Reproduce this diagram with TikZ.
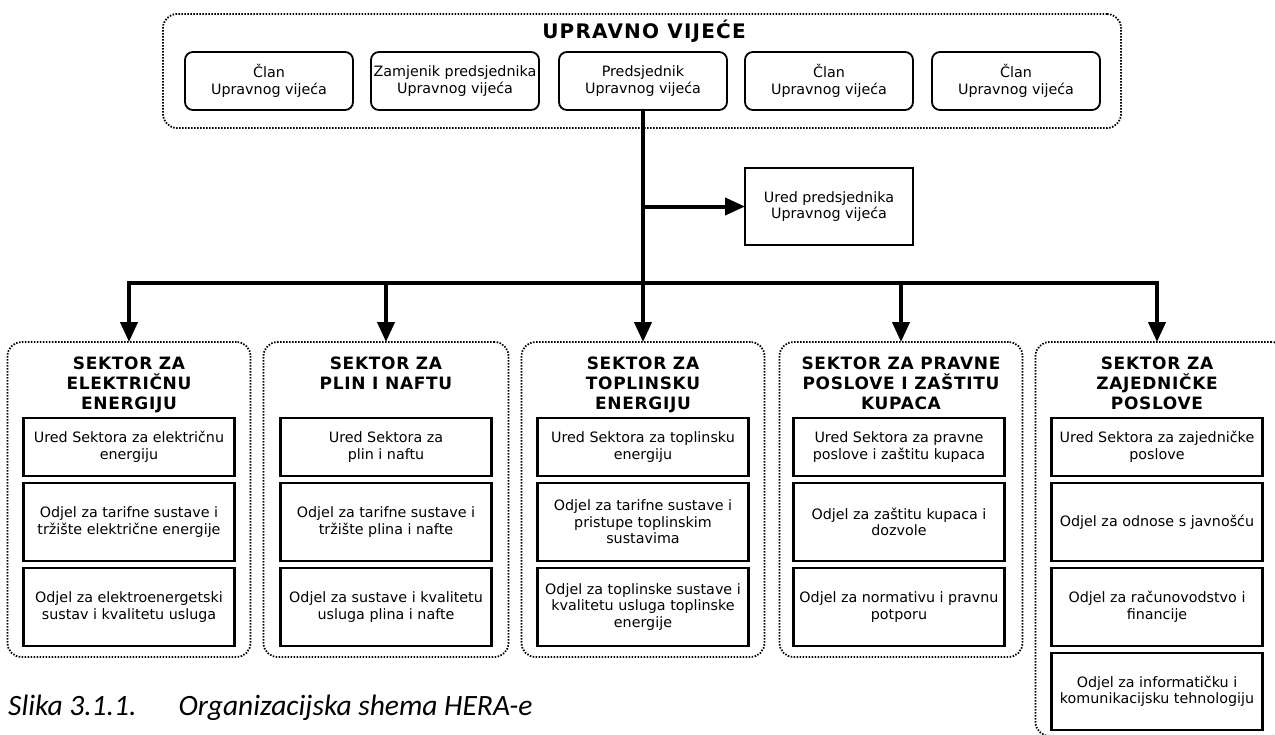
\documentclass[tikz,border=0pt]{standalone}
\usepackage{fontspec}
\setmainfont{DejaVu Sans}
\newfontfamily\tfont{DejaVu Sans}[LetterSpace=4]
\newfontfamily\ttfont{DejaVu Sans}[LetterSpace=6]
\newfontfamily\capfont{Carlito}
\usetikzlibrary{arrows.meta}
\begin{document}
\begin{tikzpicture}[x=1pt,y=-1pt,
  frame/.style={draw, line width=1.8pt, dash pattern=on 1.5pt off 1.5pt, rounded corners=14pt, inner sep=0pt, outer sep=0pt},
  topbox/.style={draw, line width=1.8pt, rounded corners=8pt, minimum width=168pt, minimum height=58pt, inner sep=0pt, outer sep=0pt, align=center, font=\fontsize{14.3}{16.5}\selectfont},
  unitbox/.style={draw, line width=2.2pt, minimum width=211pt, inner sep=0pt, outer sep=0pt, align=center, font=\fontsize{14.3}{16.5}\selectfont},
  sectitle/.style={anchor=north, inner sep=0pt, align=center, font=\tfont\bfseries\fontsize{17}{20}\selectfont},
  conn/.style={line width=4pt},
  arr/.style={conn, -{Triangle[length=20pt,width=17pt]}}
]
\useasboundingbox (0,0) rectangle (1275,734);

% Upravno vijece
\node[frame, minimum width=958pt, minimum height=114pt] (uv) at (642,71) {};
\node[inner sep=0pt, font=\ttfont\bfseries\fontsize{20}{22}\selectfont] (uvt) at (644,31) {UPRAVNO VIJEĆE};
\node[topbox] (p1) at (269,81) {Član\\Upravnog vijeća};
\node[topbox] (p2) at (455,81) {Zamjenik predsjednika\\Upravnog vijeća};
\node[topbox] (p3) at (643,81) {Predsjednik\\Upravnog vijeća};
\node[topbox] (p4) at (829,81) {Član\\Upravnog vijeća};
\node[topbox] (p5) at (1016,81) {Član\\Upravnog vijeća};

% Ured predsjednika
\node[draw, line width=1.8pt, minimum width=168pt, minimum height=77pt, inner sep=0pt, outer sep=0pt, align=center, font=\fontsize{14.3}{16.5}\selectfont] (ured) at (829,206.5) {Ured predsjednika\\Upravnog vijeća};

% sector frames
\node[frame, minimum width=243pt, minimum height=315pt] (f1) at (129,499.5) {};
\node[frame, minimum width=245pt, minimum height=315pt] (f2) at (386,499.5) {};
\node[frame, minimum width=243pt, minimum height=315pt] (f3) at (643,499.5) {};
\node[frame, minimum width=243pt, minimum height=315pt] (f4) at (901,499.5) {};
\node[frame, minimum width=250pt, minimum height=394pt] (f5) at (1160.5,539) {};
\coordinate (f5top) at (1157,342);

% connectors
\coordinate (bus) at (643,283);
\draw[conn] (p3.south) -- (bus);
\draw[arr] (p3.south |- ured.west) -- (ured.west);
\draw[arr] (bus) -| (f1.north);
\draw[arr] (bus) -| (f5top);
\draw[arr] (f2.north |- bus) -- (f2.north);
\draw[arr] (bus) -- (f3.north);
\draw[arr] (f4.north |- bus) -- (f4.north);

% sector titles
\node[sectitle] (t1) at (129,357) {SEKTOR ZA\\ELEKTRIČNU\\ENERGIJU};
\node[sectitle] (t2) at (386,357) {SEKTOR ZA\\PLIN I NAFTU};
\node[sectitle] (t3) at (643,357) {SEKTOR ZA\\TOPLINSKU\\ENERGIJU};
\node[sectitle] (t4) at (901,357) {SEKTOR ZA PRAVNE\\POSLOVE I ZAŠTITU\\KUPACA};
\node[sectitle] (t5) at (1157,357) {SEKTOR ZA\\ZAJEDNIČKE\\POSLOVE};

% units: sector 1
\node[unitbox, minimum height=58pt] (a1) at (129,447) {Ured Sektora za električnu\\energiju};
\node[unitbox, minimum height=78pt] (a2) at (129,522) {Odjel za tarifne sustave i\\tržište električne energije};
\node[unitbox, minimum height=78pt] (a3) at (129,607) {Odjel za elektroenergetski\\sustav i kvalitetu usluga};
% sector 2
\node[unitbox, minimum height=58pt] (b1) at (386,447) {Ured Sektora za\\plin i naftu};
\node[unitbox, minimum height=78pt] (b2) at (386,522) {Odjel za tarifne sustave i\\tržište plina i nafte};
\node[unitbox, minimum height=78pt] (b3) at (386,607) {Odjel za sustave i kvalitetu\\usluga plina i nafte};
% sector 3
\node[unitbox, minimum height=58pt] (c1) at (643,447) {Ured Sektora za toplinsku\\energiju};
\node[unitbox, minimum height=78pt] (c2) at (643,522) {Odjel za tarifne sustave i\\pristupe toplinskim\\sustavima};
\node[unitbox, minimum height=78pt] (c3) at (643,607) {Odjel za toplinske sustave i\\kvalitetu usluga toplinske\\energije};
% sector 4
\node[unitbox, minimum height=58pt] (d1) at (899,447) {Ured Sektora za pravne\\poslove i zaštitu kupaca};
\node[unitbox, minimum height=78pt] (d2) at (899,522) {Odjel za zaštitu kupaca i\\dozvole};
\node[unitbox, minimum height=78pt] (d3) at (899,607) {Odjel za normativu i pravnu\\potporu};
% sector 5
\node[unitbox, minimum height=58pt] (e1) at (1157,447) {Ured Sektora za zajedničke\\poslove};
\node[unitbox, minimum height=78pt] (e2) at (1157,522) {Odjel za odnose s javnošću};
\node[unitbox, minimum height=78pt] (e3) at (1157,607) {Odjel za računovodstvo i\\financije};
\node[unitbox, minimum height=77pt] (e4) at (1157,691.5) {Odjel za informatičku i\\komunikacijsku tehnologiju};

% caption
\node[anchor=base west, inner sep=0pt, font=\capfont\itshape\fontsize{29.5}{31}\selectfont] (cap) at (8,715) {Slika 3.1.1.\hspace{42pt}Organizacijska shema HERA-e};
\end{tikzpicture}
\end{document}
